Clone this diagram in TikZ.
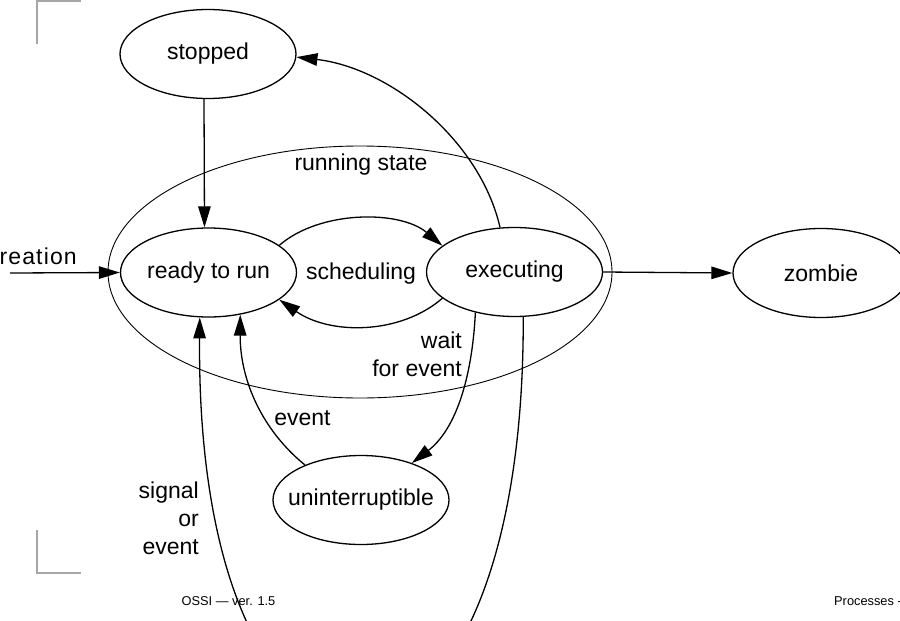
\documentclass[tikz,border=0pt]{standalone}
\usepackage{fontspec}
\setmainfont{Liberation Sans}
\usetikzlibrary{shapes.geometric,arrows.meta}
\newcommand\zw[1]{\makebox[0pt]{#1}}
\begin{document}
\begin{tikzpicture}[x=1pt,y=-1pt,
  state/.style={draw,ellipse,line width=1.3pt,minimum width=176pt,minimum height=89pt,inner sep=0pt,font=\fontsize{23}{27}\selectfont},
  lbl/.style={font=\fontsize{23}{28}\selectfont,inner sep=0pt},
  small/.style={font=\fontsize{12.8}{15}\selectfont,inner sep=0pt},
  arr/.style={line width=1.3pt,-{Triangle[length=21pt,width=12.5pt]}},
  corner/.style={draw=gray!70,line width=1.2pt}]
\useasboundingbox (0,0) rectangle (900,621);
\clip (0,0) rectangle (900,621);
\fill[white] (0,0) rectangle (900,621);
% corner marks
\draw[corner] (37,44) -- (37,1) -- (81,1);
\draw[corner] (37,530) -- (37,573) -- (81,573);
% running state
\node[draw,ellipse,line width=0.9pt,minimum width=504pt,minimum height=252pt,inner sep=0pt] (running) at (360,272) {};
\node[lbl] (runlbl) at (361,165) {running state};
% states
\node[state] (stopped) at (208,54) {\zw{stopped}};
\node[state] (ready) at (208.5,272.5) {\zw{ready to run}};
\node[state] (exec) at (514.5,272) {\zw{executing}};
\node[state] (zombie) at (821,273) {\zw{zombie}};
\node[state] (unint) at (361,500) {\zw{uninterruptible}};
% creation
\coordinate (cstart) at (10,273);
\node[lbl,anchor=base east,font=\fontsize{23}{28}\selectfont\addfontfeature{LetterSpace=5}] (creation) at (77,264) {creation};
\draw[arr] (cstart) -- (ready.west);
% edges
\draw[arr] ([xshift=-4pt]stopped.south) -- ([xshift=-4pt]ready.north);
\draw[arr] (ready.21) .. controls (320,210) and (400,210) .. (exec.160);
\draw[arr] (exec.200) .. controls (400,335) and (330,335) .. (ready.-21);
\draw[arr] (exec.108) .. controls (480,140) and (390,68) .. (stopped.-2);
\draw[arr] (exec.east) -- (zombie.west);
\draw[arr] (exec.226) .. controls (472,380) and (455,430) .. (unint.36);
\draw[arr] (unint.148) .. controls (262,430) and (240,380) .. (ready.-53);
\draw[arr] (exec.-79) .. controls (525,850) and (195,850) .. (ready.-101);
% labels
\node[lbl] (sched) at (361,274) {scheduling};
\node[lbl,align=right,anchor=east] (wait) at (462,354) {wait\\for event};
\node[lbl] (evt) at (302.5,418) {event};
\node[lbl,align=right,anchor=east] (sig) at (199,518) {signal\\or\\event};
% footer
\node[small] (foot1) at (228.5,601) {OSSI — ver. 1.5};
\node[small,anchor=west] (foot2) at (834,601) {Processes -};
\end{tikzpicture}
\end{document}
